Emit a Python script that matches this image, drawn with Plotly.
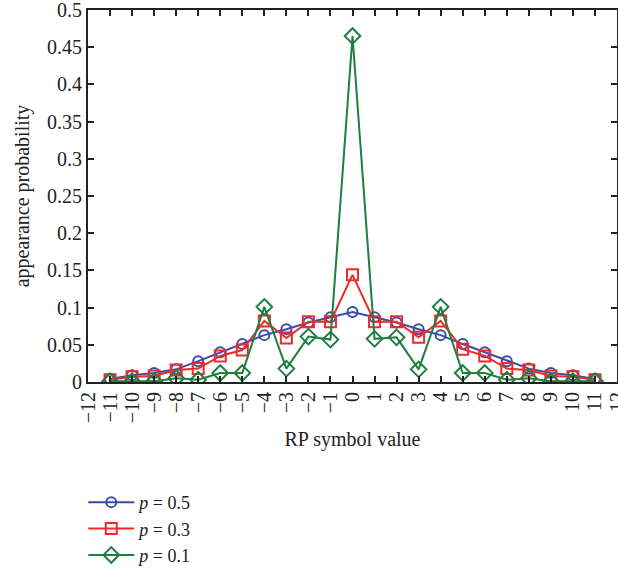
import plotly.graph_objects as go

x_vals = list(range(-11, 12))
p05 = [0.004, 0.009, 0.012, 0.017, 0.028, 0.040, 0.051, 0.063, 0.071, 0.080, 0.087, 0.094,
       0.087, 0.080, 0.071, 0.063, 0.051, 0.040, 0.028, 0.018, 0.012, 0.009, 0.004]
p03 = [0.003, 0.007, 0.008, 0.016, 0.018, 0.035, 0.043, 0.082, 0.059, 0.081, 0.081, 0.144,
       0.081, 0.081, 0.060, 0.082, 0.044, 0.035, 0.018, 0.016, 0.008, 0.007, 0.003]
p01 = [0.001, 0.001, 0.001, 0.005, 0.003, 0.012, 0.012, 0.101, 0.018, 0.061, 0.057, 0.465,
       0.058, 0.060, 0.017, 0.101, 0.012, 0.012, 0.003, 0.005, 0.001, 0.001, 0.001]
names = ["<i>p</i> = 0.5", "<i>p</i> = 0.3", "<i>p</i> = 0.1"]
colors = ["#3a4ea8", "#ee2a2a", "#1f7f3e"]
symbols = ["circle-open", "square-open", "diamond-open"]
sizes = [10, 11, 12]
x_ticks = list(range(-12, 13))
y_ticks = [round(0.05 * i, 2) for i in range(11)]

FONT = "Liberation Serif"
fig = go.Figure()
for ys, nm, c, s, sz in zip([p05, p03, p01], names, colors, symbols, sizes):
    fig.add_trace(go.Scatter(
        x=x_vals, y=ys, name=nm, mode="lines+markers",
        line=dict(color=c, width=2),
        marker=dict(symbol=s, size=sz, color=c, line=dict(width=2, color=c)),
    ))

axis_common = dict(showline=True, linecolor="#222222", linewidth=2, mirror="ticks",
                   ticks="inside", ticklen=6, tickwidth=1.5, tickcolor="#222222",
                   showgrid=False, zeroline=False, automargin=False,
                   ticklabeloverflow="allow",
                   tickfont=dict(family=FONT, size=20, color="#222222"))
fig.update_xaxes(range=[-12, 12], tickvals=x_ticks, tickangle=-90,
                 title=dict(text="RP symbol value", font=dict(family=FONT, size=20, color="#222222"), standoff=10),
                 **axis_common)
fig.update_yaxes(range=[0, 0.5], tickvals=y_ticks,
                 title=dict(text="appearance probability", font=dict(family=FONT, size=20, color="#222222"), standoff=12),
                 **axis_common)
fig.update_layout(
    width=618, height=574,
    margin=dict(l=88, r=1, t=10, b=192, autoexpand=False),
    plot_bgcolor="white", paper_bgcolor="white",
    font=dict(family=FONT, size=20, color="#222222"),
    legend=dict(x=-0.009, y=-0.274, xanchor="left", yanchor="top",
                font=dict(family=FONT, size=18, color="#222222"),
                tracegroupgap=0, itemwidth=46, bgcolor="rgba(0,0,0,0)"),
)
fig.write_html("out.html", config={"displayModeBar": False},
               post_script="document.body.style.margin='0';document.body.style.overflow='hidden';")
